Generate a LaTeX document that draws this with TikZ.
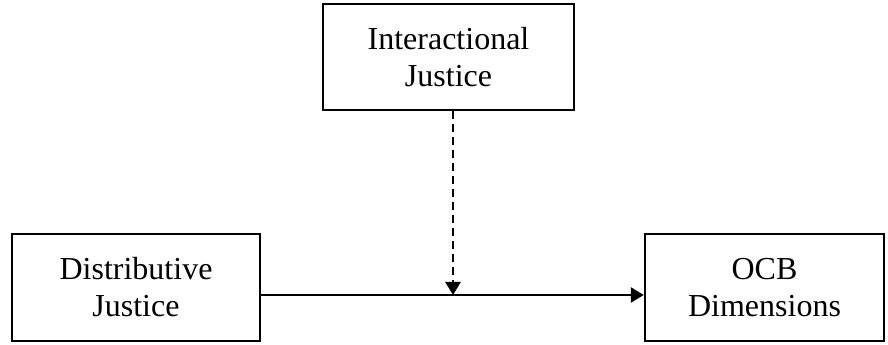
\documentclass[tikz,border=0pt]{standalone}
\usepackage{fontspec}
\setmainfont{Liberation Serif}
\usetikzlibrary{arrows.meta}
\begin{document}
\begin{tikzpicture}[x=1pt,y=1pt,
  box/.style={draw,line width=2.4pt,rectangle,align=center,inner sep=0pt,
    font=\fontsize{32}{37}\selectfont},
  conn/.style={line width=2.4pt,-{Triangle[length=13pt,width=15pt]}}]
\useasboundingbox (0,0) rectangle (888,345);
\node[box,minimum width=251pt,minimum height=106pt] (ij) at (448.5,288) {Interactional\\Justice};
\node[box,minimum width=248pt,minimum height=107pt] (dj) at (136,57.5) {Distributive\\Justice};
\node[box,minimum width=239pt,minimum height=107pt] (ocb) at (764.5,57.5) {OCB\\Dimensions};
\coordinate (djr) at (dj.east |- 0,50);
\coordinate (ocbl) at (ocb.west |- 0,50);
\coordinate (ijb) at (453,0 |- ij.south);
\coordinate (mid) at (453,50);
\draw[conn] (djr) -- (ocbl);
\draw[conn,dash pattern=on 8pt off 5pt] (ijb) -- (mid);
\end{tikzpicture}
\end{document}
